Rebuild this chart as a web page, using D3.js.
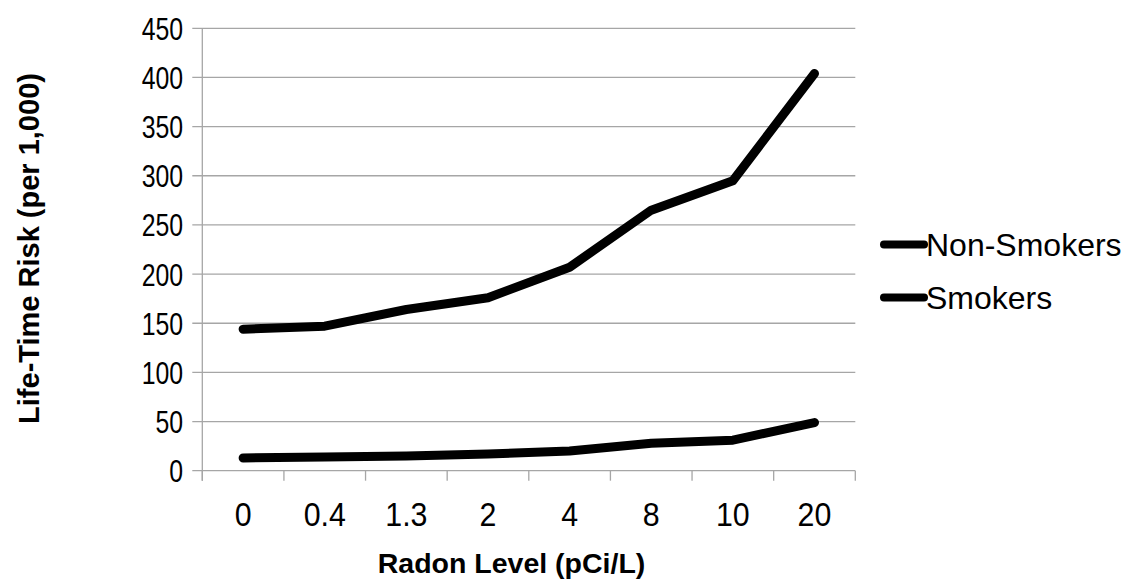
<!DOCTYPE html>
<html>
<head>
<meta charset="utf-8">
<script src="https://cdn.jsdelivr.net/npm/d3@7"></script>
<style>
  html, body { margin: 0; padding: 0; background: #fff; }
  svg { display: block; }
  text { font-family: "Liberation Sans", Arial, sans-serif; fill: #000; }
</style>
</head>
<body>
<svg id="chart" width="1138" height="583"></svg>
<script>
// Radon level categories (pCi/L) and lifetime lung-cancer risk per 1,000 people
const categories = ["0", "0.4", "1.3", "2", "4", "8", "10", "20"];
const nonSmokers = [13, 14, 15, 17, 20, 28, 31, 49];
const smokers = [144, 147, 164, 176, 207, 265, 295, 404];
const yTicks = [0, 50, 100, 150, 200, 250, 300, 350, 400, 450];
const seriesNames = ["Non-Smokers", "Smokers"];

const svg = d3.select("#chart");

const plot = { left: 202.3, right: 855.3, top: 28.3, bottom: 470.7 };

const x = d3.scaleBand().domain(categories).range([plot.left, plot.right]);
const y = d3.scaleLinear().domain([0, 450]).range([plot.bottom, plot.top]);

const gridColor = "#a6a6a6";

// Horizontal gridlines (they run a little past the axis, acting as tick marks)
svg.append("g")
  .selectAll("line")
  .data(yTicks)
  .join("line")
  .attr("x1", plot.left - 10)
  .attr("x2", plot.right)
  .attr("y1", d => y(d))
  .attr("y2", d => y(d))
  .attr("stroke", gridColor)
  .attr("stroke-width", 1.3);

// Vertical axis line
svg.append("line")
  .attr("x1", plot.left).attr("x2", plot.left)
  .attr("y1", plot.top).attr("y2", plot.bottom + 10)
  .attr("stroke", gridColor).attr("stroke-width", 1.3);

// X-axis tick marks at category boundaries
const boundaries = categories.map(c => x(c)).concat([plot.right]);
svg.append("g")
  .selectAll("line")
  .data(boundaries)
  .join("line")
  .attr("x1", d => d).attr("x2", d => d)
  .attr("y1", plot.bottom).attr("y2", plot.bottom + 10)
  .attr("stroke", gridColor).attr("stroke-width", 1.3);

// Y tick labels (slightly condensed digits)
svg.append("g")
  .selectAll("text")
  .data(yTicks)
  .join("text")
  .attr("transform", d => `translate(183,${y(d) + 11.5}) scale(0.8,1)`)
  .attr("text-anchor", "end")
  .attr("font-size", 31)
  .text(d => d);

// X tick labels
svg.append("g")
  .selectAll("text")
  .data(categories)
  .join("text")
  .attr("transform", d => `translate(${x(d) + x.bandwidth() / 2},526) scale(0.92,1)`)
  .attr("text-anchor", "middle")
  .attr("font-size", 33)
  .text(d => d);

// Series lines
const line = d3.line()
  .x((d, i) => x(categories[i]) + x.bandwidth() / 2)
  .y(d => y(d));

[nonSmokers, smokers].forEach(values => {
  svg.append("path")
    .datum(values)
    .attr("d", line)
    .attr("fill", "none")
    .attr("stroke", "#000")
    .attr("stroke-width", 9)
    .attr("stroke-linejoin", "round")
    .attr("stroke-linecap", "round");
});

// Legend
const legendY = [244.5, 297.5];
seriesNames.forEach((name, i) => {
  svg.append("line")
    .attr("x1", 884).attr("x2", 924)
    .attr("y1", legendY[i]).attr("y2", legendY[i])
    .attr("stroke", "#000").attr("stroke-width", 8)
    .attr("stroke-linecap", "round");
  svg.append("text")
    .attr("x", 926)
    .attr("y", legendY[i] + 11.5)
    .attr("font-size", 32)
    .text(name);
});

// Axis titles
svg.append("text")
  .attr("x", 511.5)
  .attr("y", 573)
  .attr("text-anchor", "middle")
  .attr("font-size", 28.5)
  .attr("font-weight", "bold")
  .text("Radon Level (pCi/L)");

svg.append("text")
  .attr("transform", "translate(39,248.5) rotate(-90)")
  .attr("text-anchor", "middle")
  .attr("font-size", 29)
  .attr("font-weight", "bold")
  .text("Life-Time Risk (per 1,000)");
</script>
</body>
</html>
